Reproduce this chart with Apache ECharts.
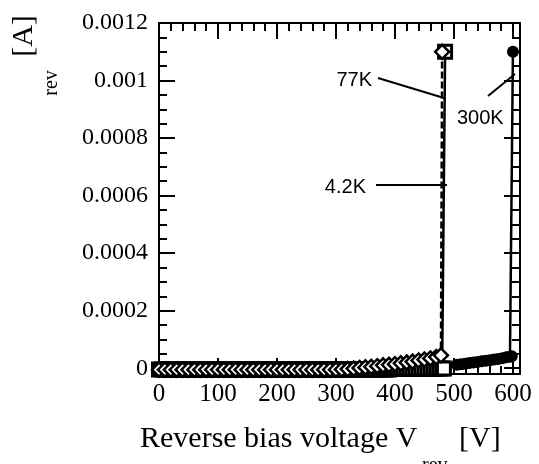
<!DOCTYPE html>
<html><head><meta charset="utf-8">
<script src="https://cdn.jsdelivr.net/npm/echarts@6/dist/echarts.min.js"></script>
<style>html,body{margin:0;padding:0;background:#fff}#c{width:539px;height:464px}</style>
</head><body><div id="c"></div>
<script>
// ---- tick labels ----
const xTickVals = [0, 100, 200, 300, 400, 500, 600];
const xTickLabels = ['0', '100', '200', '300', '400', '500', '600'];
const xMinorVals = [20,40,60,80,120,140,160,180,220,240,260,280,320,340,360,380,420,440,460,480,520,540,560,580];
const yTickVals = [0, 0.0002, 0.0004, 0.0006, 0.0008, 0.001, 0.0012];
const yTickLabels = ['0', '0.0002', '0.0004', '0.0006', '0.0008', '0.001', '0.0012'];
const yMinorVals = [0.00005,0.0001,0.00015,0.00025,0.0003,0.00035,0.00045,0.0005,0.00055,0.00065,0.0007,0.00075,0.00085,0.0009,0.00095,0.00105,0.0011,0.00115];

// ---- series: 4.2K (open squares, solid line) ----
const v42K_x = [0,5,10,15,20,25,30,35,40,45,50,55,60,65,70,75,80,85,90,95,100,105,110,115,120,125,130,135,140,145,150,155,160,165,170,175,180,185,190,195,200,205,210,215,220,225,230,235,240,245,250,255,260,265,270,275,280,285,290,295,300,305,310,315,320,325,330,335,340,345,350,355,360,365,370,375,380,385,390,395,400,405,410,415,420,425,430,435,440,445,450,455,460,465,470,475,480,483,485];
const v42K_y = [-0.000004,-0.000004,-0.000004,-0.000004,-0.000004,-0.000004,-0.000004,-0.000004,-0.000004,-0.000004,-0.000004,-0.000004,-0.000004,-0.000004,-0.000004,-0.000004,-0.000004,-0.000004,-0.000004,-0.000004,-0.000004,-0.000004,-0.000004,-0.000004,-0.000004,-0.000004,-0.000004,-0.000004,-0.000004,-0.000004,-0.000004,-0.000004,-0.000004,-0.000004,-0.000004,-0.000004,-0.000004,-0.000004,-0.000004,-0.000004,-0.000004,-0.000004,-0.000004,-0.000004,-0.000004,-0.000004,-0.000004,-0.000004,-0.000004,-0.000004,-0.000004,-0.000004,-0.000004,-0.000004,-0.000004,-0.000004,-0.000004,-0.000004,-0.000004,-0.000004,-0.000004,-0.000004,-0.000004,-0.000004,-0.000004,-0.000004,-0.000004,-0.000004,-0.000004,-0.000004,-0.000004,-0.000004,-0.000004,-0.000004,-0.000004,-0.000004,-0.000004,-0.000004,-0.000004,-0.000003,-0.000003,-0.000003,-0.000003,-0.000003,-0.000003,-0.000003,-0.000003,-0.000002,-0.000002,-0.000002,-0.000002,-0.000002,-0.000002,-0.000002,-0.000001,-0.000001,-0.000001,-0.000001,0.0011];

// ---- series: 77K (open diamonds, dashed line) ----
const v77K_x = [0,10,20,30,40,50,60,70,80,90,100,110,120,130,140,150,160,170,180,190,200,210,220,230,240,250,260,270,280,290,300,310,320,330,340,350,360,370,380,390,400,410,420,430,440,450,460,470,478,480];
const v77K_y = [-0.000005,-0.000005,-0.000005,-0.000005,-0.000005,-0.000005,-0.000005,-0.000005,-0.000005,-0.000005,-0.000005,-0.000005,-0.000005,-0.000005,-0.000005,-0.000005,-0.000005,-0.000005,-0.000005,-0.000005,-0.000005,-0.000005,-0.000005,-0.000005,-0.000005,-0.000005,-0.000005,-0.000005,-0.000005,-0.000005,-0.000005,-0.000004,-0.000003,-0.000001,0.000001,0.000003,0.000005,0.000007,0.00001,0.000012,0.000014,0.000017,0.00002,0.000023,0.000027,0.00003,0.000034,0.000039,0.000045,0.0011];

// ---- series: 300K (filled circles, solid line) ----
const v300K_x = [505,512,519,526,533,540,547,554,561,568,575,582,589,595,598,600];
const v300K_y = [0.000012,0.000014,0.000016,0.000018,0.00002,0.000022,0.000024,0.000026,0.000028,0.00003,0.000032,0.000035,0.000038,0.00004,0.000042,0.0011];

const zip = (xs, ys) => xs.map((x, i) => [x, ys[i]]);

const X_MIN = 0, X_MAX = 612, Y_MIN = -0.00002, Y_MAX = 0.0012;
const serif = 'Liberation Serif';

function xAx(pos, vals, len, labels, showLine) {
  return {
    type: 'value', position: pos, min: X_MIN, max: X_MAX,
    axisLine: { show: showLine, onZero: false, lineStyle: { color: '#000', width: 2 } },
    axisTick: { show: true, inside: true, length: len, customValues: vals, lineStyle: { color: '#000', width: 2 } },
    axisLabel: labels ? {
      show: true, customValues: xTickVals, margin: 8,
      fontFamily: serif, fontSize: 25, color: '#000',
      formatter: v => xTickLabels[xTickVals.indexOf(v)]
    } : { show: false },
    splitLine: { show: false }
  };
}
function yAx(pos, vals, len, labels, showLine) {
  return {
    type: 'value', position: pos, min: Y_MIN, max: Y_MAX,
    axisLine: { show: showLine, onZero: false, lineStyle: { color: '#000', width: 2 } },
    axisTick: { show: true, inside: true, length: len, customValues: vals, lineStyle: { color: '#000', width: 2 } },
    axisLabel: labels ? {
      show: true, customValues: yTickVals, margin: 11,
      fontFamily: serif, fontSize: 24, color: '#000',
      formatter: v => { let i = yTickVals.findIndex(t => Math.abs(t - v) < 1e-9); return i >= 0 ? yTickLabels[i] : ''; }
    } : { show: false },
    splitLine: { show: false }
  };
}

const chart = echarts.init(document.getElementById('c'), null, { renderer: 'canvas' });
chart.setOption({
  animation: false,
  backgroundColor: '#fff',
  grid: { left: 159, right: 19, top: 23, bottom: 90, containLabel: false },
  xAxis: [
    xAx('bottom', xTickVals, 16, true, true),
    xAx('bottom', xMinorVals, 8, false, false),
    xAx('top', xTickVals, 16, false, true),
    xAx('top', xMinorVals, 8, false, false)
  ],
  yAxis: [
    yAx('left', yTickVals, 16, true, true),
    yAx('left', yMinorVals, 8, false, false),
    yAx('right', yTickVals, 16, false, true),
    yAx('right', yMinorVals, 8, false, false)
  ],
  series: [
    {
      name: '4.2K', type: 'line', xAxisIndex: 0, yAxisIndex: 0,
      data: zip(v42K_x, v42K_y), clip: false, z: 2,
      symbol: 'rect', symbolSize: 13,
      itemStyle: { color: '#fff', borderColor: '#000', borderWidth: 3 },
      lineStyle: { color: '#000', width: 2.5 },
      emphasis: { disabled: true }
    },
    {
      name: '77K', type: 'line', xAxisIndex: 0, yAxisIndex: 0,
      data: zip(v77K_x, v77K_y), clip: false, z: 3,
      symbol: 'diamond', symbolSize: 14,
      itemStyle: { color: '#fff', borderColor: '#000', borderWidth: 2.5 },
      lineStyle: { color: '#000', width: 2.5, type: [7, 3] },
      emphasis: { disabled: true }
    },
    {
      name: '300K', type: 'line', xAxisIndex: 0, yAxisIndex: 0,
      data: zip(v300K_x, v300K_y), clip: false, z: 4,
      symbol: 'circle', symbolSize: 12,
      itemStyle: { color: '#000', borderColor: '#000', borderWidth: 0 },
      lineStyle: { color: '#000', width: 2.5 },
      emphasis: { disabled: true }
    }
  ],
  graphic: [
    { type: 'text', x: 372, y: 80, style: { text: '77K', font: '20px "Liberation Sans"', fill: '#000', align: 'right', verticalAlign: 'middle' } },
    { type: 'line', shape: { x1: 378, y1: 78, x2: 444, y2: 98 }, style: { stroke: '#000', lineWidth: 2 } },
    { type: 'text', x: 366, y: 187, style: { text: '4.2K', font: '20px "Liberation Sans"', fill: '#000', align: 'right', verticalAlign: 'middle' } },
    { type: 'line', shape: { x1: 376, y1: 185, x2: 447, y2: 185 }, style: { stroke: '#000', lineWidth: 2 } },
    { type: 'text', x: 457, y: 118, style: { text: '300K', font: '20px "Liberation Sans"', fill: '#000', align: 'left', verticalAlign: 'middle' } },
    { type: 'line', shape: { x1: 488, y1: 96, x2: 515, y2: 74 }, style: { stroke: '#000', lineWidth: 2 } },
    { type: 'text', x: 140, y: 439, style: { text: 'Reverse bias voltage V', font: '30px "Liberation Serif"', fill: '#000', align: 'left', verticalAlign: 'middle' } },
    { type: 'text', x: 422, y: 466, style: { text: 'rev', font: '20px "Liberation Serif"', fill: '#000', align: 'left', verticalAlign: 'middle' } },
    { type: 'text', x: 459, y: 439, style: { text: '[V]', font: '30px "Liberation Serif"', fill: '#000', align: 'left', verticalAlign: 'middle' } },
    { type: 'text', x: 24, y: 36, rotation: Math.PI / 2, style: { text: '[A]', font: '30px "Liberation Serif"', fill: '#000', align: 'center', verticalAlign: 'middle' } },
    { type: 'text', x: 52, y: 83, rotation: Math.PI / 2, style: { text: 'rev', font: '20px "Liberation Serif"', fill: '#000', align: 'center', verticalAlign: 'middle' } }
  ]
});
</script>
</body></html>
